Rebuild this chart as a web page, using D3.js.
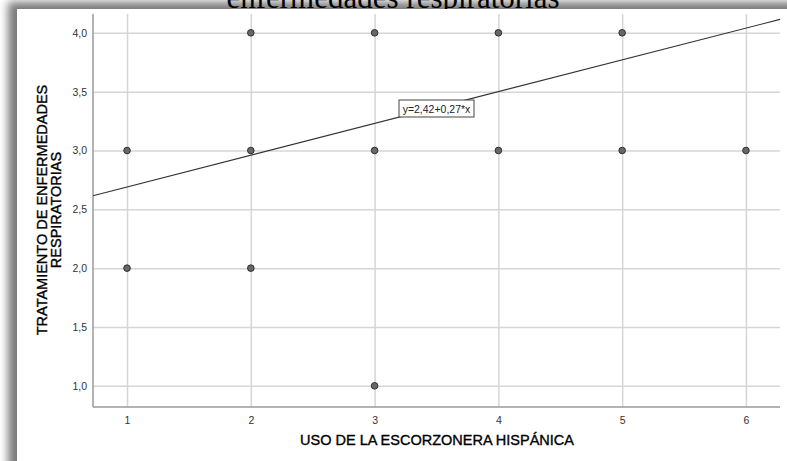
<!DOCTYPE html>
<html lang="es">
<head>
<meta charset="UTF-8"/>
<title>Dispersión</title>
<script src="https://d3js.org/d3.v7.min.js"></script>
<style>
  body { margin: 0; background: #fff; }
  svg { display: block; }
  text { font-family: "Liberation Sans", Arial, sans-serif; }
  .grid line { stroke: #d6d6d6; stroke-width: 1.5px; }
  .grid path { display: none; }
  .tick-lbl text { font-size: 10.5px; fill: #333; }
  .tick-lbl path, .tick-lbl line { display: none; }
  .ax-title { font-size: 14.5px; fill: #000; stroke: #000; stroke-width: 0.35px; }
</style>
</head>
<body>
<svg width="787" height="461"></svg>
<script>
// data
var usoX   = [1, 1, 2, 2, 2, 3, 3, 3, 4, 4, 5, 5, 6];
var tratY  = [3, 2, 4, 3, 2, 4, 3, 1, 4, 3, 4, 3, 3];
var xTicks = [1, 2, 3, 4, 5, 6];
var yTicks = [1.0, 1.5, 2.0, 2.5, 3.0, 3.5, 4.0];
var fitIntercept = 2.42, fitSlope = 0.27;
var fitLabel = "y=2,42+0,27*x";

var svg = d3.select("svg");
var defs = svg.append("defs");
defs.append("filter").attr("id", "blur")
    .attr("x", "-20%").attr("y", "-20%").attr("width", "140%").attr("height", "140%")
  .append("feGaussianBlur").attr("stdDeviation", 4);

// drop shadow of the pasted panel
svg.append("rect")
    .attr("x", 8).attr("y", 2).attr("width", 900).attr("height", 600)
    .attr("fill", "#7a7a7a").attr("filter", "url(#blur)");

// title, cut off by the panel
svg.append("text")
    .attr("x", 393).attr("y", 8)
    .attr("text-anchor", "middle")
    .style("font-family", "'Liberation Serif', 'Times New Roman', serif")
    .style("font-size", "31px")
    .attr("fill", "#000")
    .text("enfermedades respiratorias");

svg.append("rect")
    .attr("x", 17).attr("y", 9).attr("width", 800).attr("height", 470)
    .attr("fill", "#fff");

var x = d3.scaleLinear().domain([0.725, 6.275]).range([93, 780]);
var y = d3.scaleLinear().domain([0.82, 4.16]).range([407, 14]);

var fmt = function(d) { return d3.format(".1f")(d).replace(".", ","); };

// grid
svg.append("g").attr("class", "grid")
    .attr("transform", "translate(0,407)")
    .call(d3.axisBottom(x).tickValues(xTicks).tickSize(-393).tickFormat(""));
svg.append("g").attr("class", "grid")
    .attr("transform", "translate(93,0)")
    .call(d3.axisLeft(y).tickValues(yTicks).tickSize(-687).tickFormat(""));

// axis lines
svg.append("line").attr("x1", 93).attr("x2", 93).attr("y1", 14).attr("y2", 407)
    .attr("stroke", "#9a9a9a").attr("stroke-width", 1.5);
svg.append("line").attr("x1", 93).attr("x2", 780).attr("y1", 407).attr("y2", 407)
    .attr("stroke", "#9a9a9a").attr("stroke-width", 1.5);

// tick labels
svg.append("g").attr("class", "tick-lbl")
    .attr("transform", "translate(0,407)")
    .call(d3.axisBottom(x).tickValues(xTicks).tickSize(0).tickPadding(10).tickFormat(d3.format("d")));
svg.append("g").attr("class", "tick-lbl")
    .attr("transform", "translate(93,0)")
    .call(d3.axisLeft(y).tickValues(yTicks).tickSize(0).tickPadding(6).tickFormat(fmt));

// fit line
var x0 = x.domain()[0], x1 = x.domain()[1];
svg.append("line")
    .attr("x1", x(x0)).attr("y1", y(fitIntercept + fitSlope * x0))
    .attr("x2", x(x1)).attr("y2", y(fitIntercept + fitSlope * x1))
    .attr("stroke", "#333").attr("stroke-width", 1.1);

// points
svg.append("g").selectAll("circle")
    .data(usoX.map(function(d, i) { return [d, tratY[i]]; }))
    .enter().append("circle")
    .attr("cx", function(d) { return x(d[0]); })
    .attr("cy", function(d) { return y(d[1]); })
    .attr("r", 3.3)
    .attr("fill", "#686868")
    .attr("stroke", "#2e2e2e")
    .attr("stroke-width", 1);

// fit label
var lbl = svg.append("g").attr("transform", "translate(399,100)");
lbl.append("rect").attr("width", 75).attr("height", 17)
    .attr("fill", "#fff").attr("stroke", "#444").attr("stroke-width", 1);
lbl.append("text").attr("x", 37.5).attr("y", 12.5)
    .attr("text-anchor", "middle")
    .style("font-size", "10.5px").attr("fill", "#222")
    .text(fitLabel);

// axis titles
svg.append("text").attr("class", "ax-title")
    .attr("transform", "translate(437,445)")
    .attr("text-anchor", "middle")
    .text("USO DE LA ESCORZONERA HISPÁNICA");

var yt = svg.append("text").attr("class", "ax-title")
    .attr("transform", "translate(47,210) rotate(-90)")
    .attr("text-anchor", "middle");
yt.append("tspan").attr("x", 0).attr("dy", 0).text("TRATAMIENTO DE ENFERMEDADES");
yt.append("tspan").attr("x", 0).attr("dy", 14).text("RESPIRATORIAS");
</script>
</body>
</html>
